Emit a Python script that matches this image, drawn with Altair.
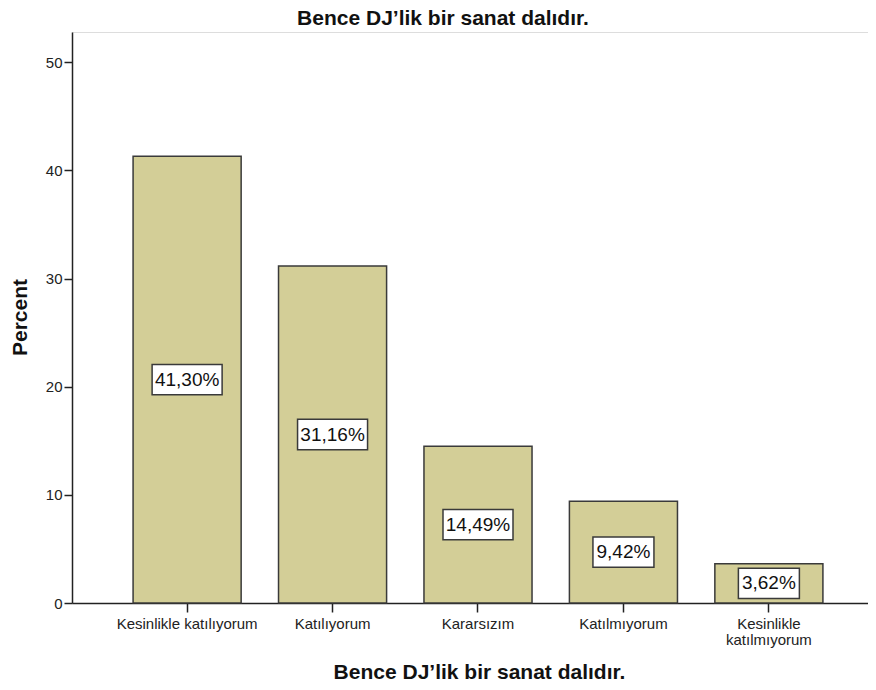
import altair as alt
import pandas as pd

categories = ["Kesinlikle katılıyorum", "Katılıyorum", "Kararsızım", "Katılmıyorum", "Kesinlikle katılmıyorum"]
percents = [41.30, 31.16, 14.49, 9.42, 3.62]
labels = ["41,30%", "31,16%", "14,49%", "9,42%", "3,62%"]
y_ticks = [0, 10, 20, 30, 40, 50]

df = pd.DataFrame({"cat": categories, "pct": percents, "label": labels})

FONT = "Liberation Sans"
TITLE = "Bence DJ\u2019lik bir sanat dalıdır."

x_enc = alt.X(
    "cat:N",
    sort=categories,
    scale=alt.Scale(range=[0, 812], paddingInner=0.257, paddingOuter=0.42),
    axis=alt.Axis(
        title=TITLE,
        labelAngle=0,
        labelFont=FONT,
        labelFontSize=15,
        labelColor="#222222",
        labelPadding=4,
        labelLineHeight=16,
        labelExpr="datum.label == 'Kesinlikle katılmıyorum' ? ['Kesinlikle', 'katılmıyorum'] : datum.label",
        tickSize=9,
        tickColor="#222222",
        tickWidth=1.5,
        domainColor="#222222",
        domainWidth=1.5,
        titleFont=FONT,
        titleFontSize=21,
        titleFontWeight="bold",
        titleColor="#111111",
        titleX=407,
        titleY=75,
        titleBaseline="alphabetic",
        titleAnchor="middle",
        titleAlign="center",
    ),
)

y_scale = alt.Scale(domain=[0, 52.8], nice=False)

bars = alt.Chart(df).mark_bar(
    fill="#D3CE97", stroke="#3a3a3a", strokeWidth=1.5
).encode(
    x=x_enc,
    y=alt.Y(
        "pct:Q",
        scale=y_scale,
        axis=alt.Axis(
            title="Percent",
            values=y_ticks,
            grid=False,
            labelFont=FONT,
            labelFontSize=15,
            labelColor="#222222",
            labelPadding=2,
            tickSize=8,
            tickColor="#222222",
            tickWidth=1.5,
            domainColor="#222222",
            domainWidth=1.5,
            titleFont=FONT,
            titleFontSize=21,
            titleFontWeight="bold",
            titleColor="#111111",
            titleAngle=-90,
            titleX=-52,
            titleY=285,
            titleBaseline="middle",
            titleAlign="center",
        ),
    ),
)

base = alt.Chart(df).transform_calculate(
    mid="datum.pct / 2",
    lo="datum.pct / 2 - 1.4",
    hi="datum.pct / 2 + 1.4",
    n="length(datum.label)",
)

box_wide = base.transform_filter("datum.n >= 6").mark_bar(
    width=70, fill="white", stroke="#3a3a3a", strokeWidth=1.5
).encode(
    x=alt.X("cat:N", sort=categories),
    y=alt.Y("lo:Q", scale=y_scale),
    y2="hi:Q",
)

box_narrow = base.transform_filter("datum.n < 6").mark_bar(
    width=61, fill="white", stroke="#3a3a3a", strokeWidth=1.5
).encode(
    x=alt.X("cat:N", sort=categories),
    y=alt.Y("lo:Q", scale=y_scale),
    y2="hi:Q",
)

texts = base.mark_text(
    font=FONT, fontSize=19, color="#111111", baseline="middle", align="center"
).encode(
    x=alt.X("cat:N", sort=categories),
    y=alt.Y("mid:Q", scale=y_scale),
    text="label:N",
)

chart = alt.layer(bars, box_wide, box_narrow, texts).properties(
    width=796,
    height=571,
    autosize=alt.AutoSizeParams(type="none"),
    padding={"left": 64, "top": 24, "right": 0, "bottom": 84},
    title=alt.TitleParams(
        TITLE,
        font=FONT,
        fontSize=21,
        fontWeight="bold",
        color="#111111",
        anchor="middle",
        frame="group",
        dx=-27,
        offset=3,
    ),
).configure_view(
    fill="#F0F0F0", stroke="#9a9a9a", strokeWidth=2
).configure(background="white")

chart.save("out.html", embed_options={"renderer": "svg", "actions": False})
